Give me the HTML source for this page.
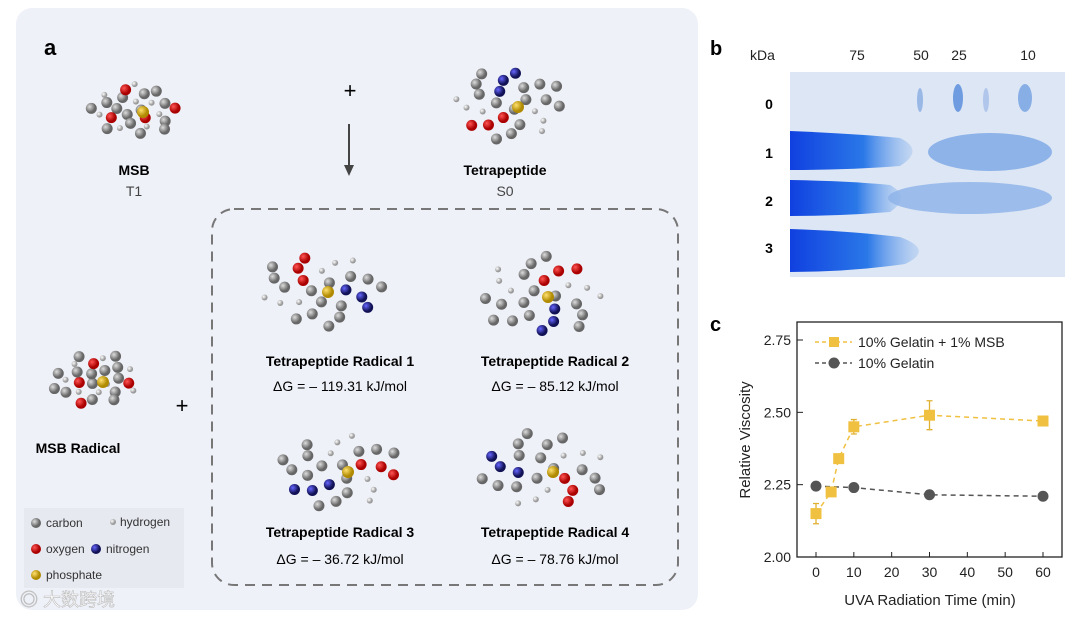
<!DOCTYPE html>
<html><head><meta charset="utf-8"><style>
body{margin:0;width:1080px;height:619px;background:#fff;overflow:hidden;font-family:"Liberation Sans",sans-serif}
svg{position:absolute;left:0;top:0}
</style></head><body>
<svg width="1080" height="619" viewBox="0 0 1080 619">
<defs>
<radialGradient id="gC" cx="35%" cy="35%"><stop offset="0" stop-color="#ddd"/><stop offset="1" stop-color="#666"/></radialGradient>
<radialGradient id="gO" cx="35%" cy="35%"><stop offset="0" stop-color="#f55"/><stop offset="1" stop-color="#a00"/></radialGradient>
<radialGradient id="gN" cx="35%" cy="35%"><stop offset="0" stop-color="#66f"/><stop offset="1" stop-color="#115"/></radialGradient>
<radialGradient id="gP" cx="35%" cy="35%"><stop offset="0" stop-color="#ffe070"/><stop offset="1" stop-color="#b08a00"/></radialGradient>
<radialGradient id="gH" cx="35%" cy="35%"><stop offset="0" stop-color="#fff"/><stop offset="1" stop-color="#999"/></radialGradient>
<linearGradient id="band" x1="0" x2="1"><stop offset="0" stop-color="#1040e0"/><stop offset="0.6" stop-color="#2a78e8"/><stop offset="1" stop-color="#9cc0ee" stop-opacity="0.4"/></linearGradient>
</defs>
<g>
<rect x="16" y="8" width="682" height="602" rx="16" fill="#eef1f8"/>
<text x="44" y="55" font-size="22" font-weight="bold">a</text>
<rect x="212" y="209" width="466" height="376" rx="22" fill="none" stroke="#777" stroke-width="2" stroke-dasharray="10,7"/>
<text x="350" y="98" font-size="22" text-anchor="middle">+</text>
<line x1="349" y1="124" x2="349" y2="168" stroke="#444" stroke-width="2"/><path d="M344,165 L349,176 L354,165Z" fill="#444"/>
<text x="182" y="413" font-size="22" text-anchor="middle">+</text>
<g font-family="Liberation Sans,sans-serif" font-size="14" text-anchor="middle">
<text x="134" y="175" font-weight="bold">MSB</text><text x="134" y="196" fill="#444">T1</text>
<text x="505" y="175" font-weight="bold">Tetrapeptide</text><text x="505" y="196" fill="#444">S0</text>
<text x="78" y="453" font-weight="bold">MSB Radical</text>
<text x="340" y="366" font-weight="bold">Tetrapeptide Radical 1</text><text x="340" y="391">ΔG = – 119.31 kJ/mol</text>
<text x="555" y="366" font-weight="bold">Tetrapeptide Radical 2</text><text x="555" y="391">ΔG = – 85.12 kJ/mol</text>
<text x="340" y="537" font-weight="bold">Tetrapeptide Radical 3</text><text x="340" y="564">ΔG = – 36.72 kJ/mol</text>
<text x="555" y="537" font-weight="bold">Tetrapeptide Radical 4</text><text x="555" y="564">ΔG = – 78.76 kJ/mol</text>
</g>
<g font-size="12" fill="#333">
<rect x="24" y="508" width="160" height="80" fill="#e6e9f0"/>
<circle cx="36" cy="523" r="5" fill="url(#gC)"/><text x="46" y="527">carbon</text>
<circle cx="113" cy="522" r="3" fill="url(#gH)"/><text x="120" y="526">hydrogen</text>
<circle cx="36" cy="549" r="5" fill="url(#gO)"/><text x="46" y="553">oxygen</text>
<circle cx="96" cy="549" r="5" fill="url(#gN)"/><text x="106" y="553">nitrogen</text>
<circle cx="36" cy="575" r="5" fill="url(#gP)"/><text x="46" y="579">phosphate</text>
</g>
<g id="mols"></g>
</g>
<g>
<text x="710" y="55" font-size="20" font-weight="bold">b</text>
<g font-size="14" fill="#222"><text x="750" y="60">kDa</text><text x="857" y="60" text-anchor="middle">75</text><text x="921" y="60" text-anchor="middle">50</text><text x="959" y="60" text-anchor="middle">25</text><text x="1028" y="60" text-anchor="middle">10</text></g>
<g font-size="14" font-weight="bold" text-anchor="middle"><text x="769" y="109">0</text><text x="769" y="158">1</text><text x="769" y="206">2</text><text x="769" y="253">3</text></g>
<rect x="790" y="72" width="275" height="205" fill="#dde6f4"/>
<ellipse cx="920" cy="100" rx="3" ry="12" fill="#9ab8e6"/><ellipse cx="958" cy="98" rx="5" ry="14" fill="#6f9ce0"/><ellipse cx="986" cy="100" rx="3" ry="12" fill="#b0c6ea"/><ellipse cx="1025" cy="98" rx="7" ry="14" fill="#88aee6"/>
<path d="M790,131 Q860,134 900,138 Q925,150 900,166 Q850,170 790,170Z" fill="url(#band)"/>
<ellipse cx="990" cy="152" rx="62" ry="19" fill="#7aa6e6" opacity="0.8"/>
<path d="M790,180 Q850,181 890,185 Q912,197 890,212 Q840,216 790,216Z" fill="url(#band)"/>
<ellipse cx="970" cy="198" rx="82" ry="16" fill="#8cb2e8" opacity="0.8"/>
<path d="M790,229 Q850,231 900,237 Q935,250 905,264 Q850,272 790,272Z" fill="url(#band)"/>
</g>
<g>
<text x="710" y="331" font-size="20" font-weight="bold">c</text>
<rect x="797" y="322" width="265" height="235" fill="none" stroke="#222" stroke-width="1.3"/>
<g id="axes"></g>
<text x="930" y="605" font-size="15" text-anchor="middle" fill="#222">UVA Radiation Time (min)</text>
<text x="750" y="440" font-size="15" text-anchor="middle" fill="#222" transform="rotate(-90 750 440)">Relative Viscosity</text>
<g id="series"></g>
<g font-size="14" fill="#222">
<line x1="815" y1="342" x2="852" y2="342" stroke="#f0c040" stroke-width="1.5" stroke-dasharray="4,3"/><rect x="829" y="337" width="10" height="10" fill="#f0c040"/><text x="858" y="347">10% Gelatin + 1% MSB</text>
<line x1="815" y1="363" x2="852" y2="363" stroke="#555" stroke-width="1.5" stroke-dasharray="4,3"/><circle cx="834" cy="363" r="5.5" fill="#555"/><text x="858" y="368">10% Gelatin</text>
</g>
</g>
<text x="20" y="606" font-size="18" fill="#fff" stroke="#bbb" stroke-width="0.6">◎ 大数跨境</text>
</svg>
<script>
const NS="http://www.w3.org/2000/svg";
const msbX=[0,4,6,10,30,60];
const msbY=[2.15,2.225,2.34,2.45,2.49,2.47];
const msbErr=[0.035,0.01,0.01,0.025,0.05,0.01];
const gelX=[0,10,30,60];
const gelY=[2.245,2.24,2.215,2.21];
const xTicks=[0,10,20,30,40,50,60];
const yTicks=[2.00,2.25,2.50,2.75];
const sx=v=>816+(v/60)*227;
const sy=v=>557-(v-2.0)/0.75*217;
function mk(t,a,p){const e=document.createElementNS(NS,t);for(const k in a)e.setAttribute(k,a[k]);p.appendChild(e);return e;}
const ax=document.getElementById('axes');
xTicks.forEach(v=>{const l=mk('line',{x1:sx(v),x2:sx(v),y1:557,y2:552,stroke:'#222'},ax);


const t=mk('text',{x:sx(v),y:577,'font-size':14,'text-anchor':'middle',fill:'#222'},ax);t.textContent=v;

});
yTicks.forEach(v=>{const l=mk('line',{x1:797,x2:803,y1:sy(v),y2:sy(v),stroke:'#222'},ax);


const t=mk('text',{x:791,y:sy(v)+5,'font-size':14,'text-anchor':'end',fill:'#222'},ax);t.textContent=v.toFixed(2);

});
const se=document.getElementById('series');
const gp=mk('polyline',{points:gelX.map((x,i)=>sx(x)+','+sy(gelY[i])).join(' '),fill:'none',stroke:'#555','stroke-width':1.5,'stroke-dasharray':'5,4'},se);


gelX.forEach((x,i)=>{const c=mk('circle',{cx:sx(x),cy:sy(gelY[i]),r:5.5,fill:'#555'},se);

});
const mp=mk('polyline',{points:msbX.map((x,i)=>sx(x)+','+sy(msbY[i])).join(' '),fill:'none',stroke:'#f0c040','stroke-width':1.5,'stroke-dasharray':'5,4'},se);


msbX.forEach((x,i)=>{const e=mk('path',{d:`M${sx(x)},${sy(msbY[i]+msbErr[i])}V${sy(msbY[i]-msbErr[i])}M${sx(x)-3},${sy(msbY[i]+msbErr[i])}h6M${sx(x)-3},${sy(msbY[i]-msbErr[i])}h6`,stroke:'#e0b030','stroke-width':1.3},se);


const r=mk('rect',{x:sx(x)-5.5,y:sy(msbY[i])-5.5,width:11,height:11,fill:'#f0c040'},se);

});
// molecule sketches
const mols=document.getElementById('mols');
const clusters=[[135,110,34],[510,105,45],[95,380,34],[320,290,48],[540,295,50],[340,470,48],[545,470,50]];
const kinds=['gC','gC','gC','gO','gN','gH','gH','gC'];
clusters.forEach((c,ci)=>{for(let k=0;k<26;k++){const a=k*2.39+ci,rr=c[2]*Math.sqrt((k+0.5)/26);
const kd=(ci===0||ci===2)?['gC','gC','gH','gO','gC','gH'][k%6]:kinds[k%8];
const e=mk('circle',{cx:c[0]+rr*Math.cos(a)*1.3,cy:c[1]+rr*Math.sin(a)*0.8,r:kd==='gH'?3:5.5,fill:`url(#${kd})`},mols);

}
const p=mk('circle',{cx:c[0]+8,cy:c[1]+2,r:6,fill:'url(#gP)'},mols);

});
</script>
</body></html>
